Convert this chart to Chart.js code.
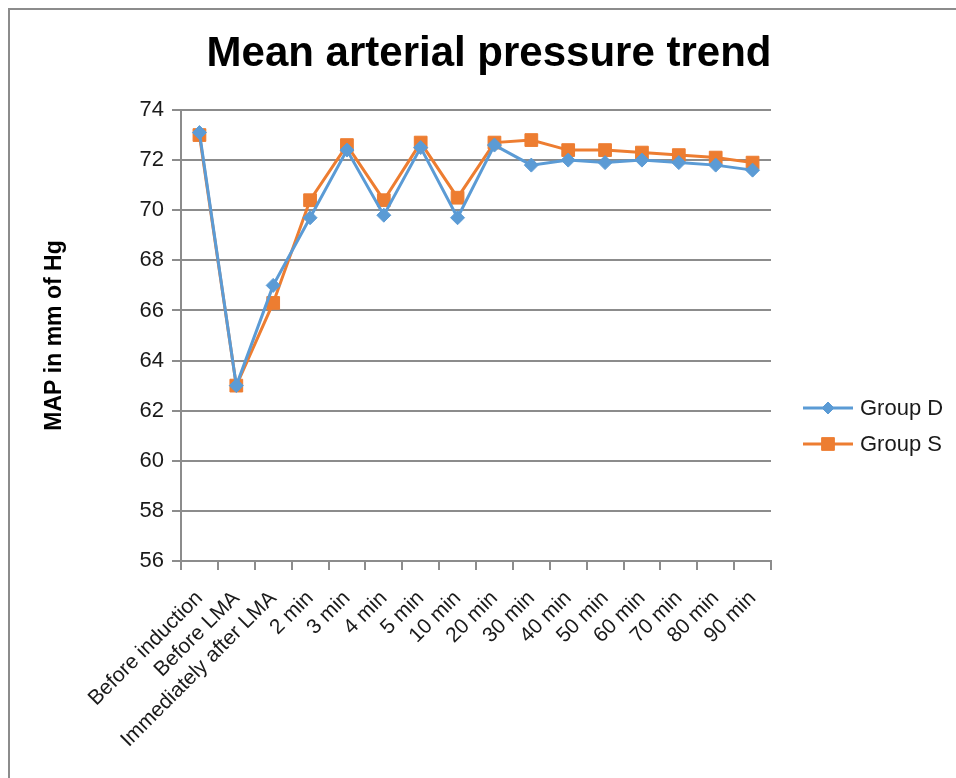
<!DOCTYPE html>
<html>
<head>
<meta charset="utf-8">
<script src="https://cdn.jsdelivr.net/npm/chart.js@4/dist/chart.umd.min.js"></script>
<style>
  html, body { margin: 0; padding: 0; background: #fff; }
  #wrap { width: 956px; height: 778px; position: relative; }
</style>
</head>
<body>
<div id="wrap"><canvas id="c" width="956" height="778"></canvas></div>
<script>
// Time points of the measurement
const categories = [
  'Before induction', 'Before LMA', 'Immediately after LMA', '2 min', '3 min',
  '4 min', '5 min', '10 min', '20 min', '30 min', '40 min', '50 min',
  '60 min', '70 min', '80 min', '90 min'
];
// Mean arterial pressure (mm Hg) per group
const groupD = [73.1, 63.0, 67.0, 69.7, 72.4, 69.8, 72.5, 69.7, 72.6, 71.8, 72.0, 71.9, 72.0, 71.9, 71.8, 71.6];
const groupS = [73.0, 63.0, 66.3, 70.4, 72.6, 70.4, 72.7, 70.5, 72.7, 72.8, 72.4, 72.4, 72.3, 72.2, 72.1, 71.9];
const seriesNames = ['Group D', 'Group S'];
// Value axis range
const yMin = 56, yMax = 74, yStep = 2;

const chartTitle = 'Mean arterial pressure trend';
const yTitle = 'MAP in mm of Hg';

const BLUE = '#5B9BD5';
const ORANGE = '#ED7D31';
const GRID = '#8c8c8c';
const TEXT = '#1a1a1a';
const FONT = 'Liberation Sans, Arial, sans-serif';

// Outer frame, title and line-with-marker legend
const decorations = {
  id: 'decorations',
  afterDraw(chart) {
    const ctx = chart.ctx;
    ctx.save();
    // frame
    ctx.strokeStyle = GRID;
    ctx.lineWidth = 2;
    ctx.beginPath();
    ctx.moveTo(9, 778);
    ctx.lineTo(9, 9);
    ctx.lineTo(956, 9);
    ctx.stroke();

    // title
    ctx.fillStyle = '#000';
    ctx.font = 'bold 42px ' + FONT;
    ctx.textAlign = 'center';
    ctx.textBaseline = 'middle';
    ctx.fillText(chartTitle, 489, 54);

    // legend
    chart.data.datasets.forEach((ds, i) => {
      const y = 408 + i * 36;
      ctx.strokeStyle = ds.borderColor;
      ctx.lineWidth = 3;
      ctx.beginPath();
      ctx.moveTo(803, y);
      ctx.lineTo(853, y);
      ctx.stroke();
      ctx.fillStyle = ds.backgroundColor;
      ctx.lineWidth = 1;
      Chart.helpers.drawPoint(ctx, {
        pointStyle: ds.pointStyle,
        radius: ds.pointStyle === 'rect' ? 9 : 6,
        borderWidth: 1
      }, 828, y);
      ctx.fillStyle = TEXT;
      ctx.font = '22px ' + FONT;
      ctx.textAlign = 'left';
      ctx.textBaseline = 'middle';
      ctx.fillText(ds.label, 860, y + 1);
    });
    ctx.restore();
  }
};

new Chart(document.getElementById('c'), {
  type: 'line',
  data: {
    labels: categories,
    datasets: [
      {
        label: seriesNames[0],
        data: groupD,
        borderColor: BLUE,
        backgroundColor: BLUE,
        borderWidth: 3,
        pointStyle: 'rectRot',
        pointRadius: 7,
        pointBorderWidth: 1,
        tension: 0
      },
      {
        label: seriesNames[1],
        data: groupS,
        borderColor: ORANGE,
        backgroundColor: ORANGE,
        borderWidth: 3,
        pointStyle: 'rect',
        pointRadius: 9,
        pointBorderWidth: 1,
        tension: 0
      }
    ]
  },
  options: {
    responsive: false,
    animation: false,
    layout: { padding: { top: 110, right: 185, left: 0, bottom: 0 } },
    plugins: {
      legend: { display: false },
      title: { display: false },
      tooltip: { enabled: false }
    },
    scales: {
      x: {
        offset: true,
        grid: {
          offset: true,
          drawOnChartArea: false,
          drawTicks: true,
          tickLength: 9,
          color: GRID,
          lineWidth: 2
        },
        border: { color: GRID, width: 2 },
        ticks: {
          autoSkip: false,
          maxRotation: 45,
          minRotation: 45,
          color: TEXT,
          font: { family: FONT, size: 21 },
          padding: 16
        },
        afterFit(scale) { scale.height = 217; }
      },
      y: {
        min: yMin,
        max: yMax,
        ticks: {
          stepSize: yStep,
          color: TEXT,
          font: { family: FONT, size: 22 },
          padding: 8
        },
        grid: {
          color: GRID,
          lineWidth: 2,
          tickLength: 9
        },
        border: { color: GRID, width: 2 },
        title: {
          display: true,
          text: yTitle,
          color: '#000',
          font: { family: FONT, size: 23, weight: 'bold' },
          padding: { top: 41, bottom: 0 }
        },
        afterFit(scale) { scale.width = 181; }
      }
    }
  },
  plugins: [decorations]
});
</script>
</body>
</html>
